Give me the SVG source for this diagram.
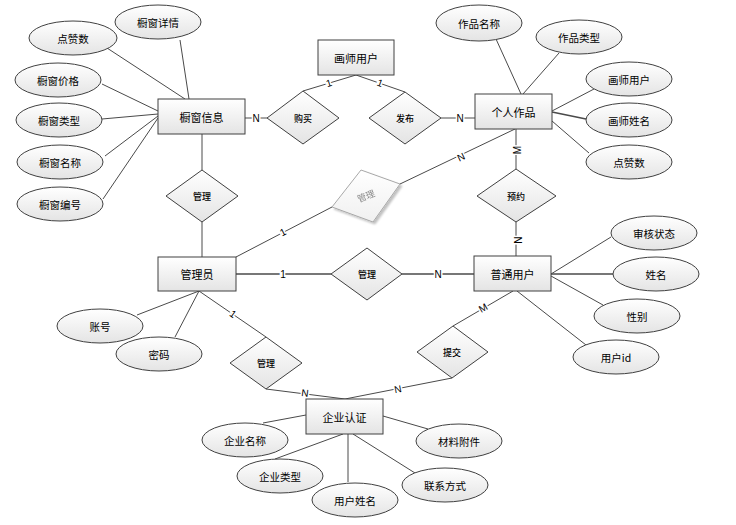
<svg xmlns="http://www.w3.org/2000/svg" width="736" height="525" viewBox="0 0 736 525">
<defs>
<linearGradient id="g" x1="0" y1="0" x2="0" y2="1">
<stop offset="0" stop-color="#ffffff"/>
<stop offset="1" stop-color="#e4e4e4"/>
</linearGradient>
<linearGradient id="gl" x1="0" y1="0" x2="0" y2="1">
<stop offset="0" stop-color="#ffffff"/>
<stop offset="1" stop-color="#f0f0f0"/>
</linearGradient>
<filter id="sh" x="-20%" y="-20%" width="150%" height="150%">
<feGaussianBlur in="SourceAlpha" stdDeviation="1.2"/>
<feOffset dx="1.5" dy="1.5" result="b"/>
<feComponentTransfer><feFuncA type="linear" slope="0.25"/></feComponentTransfer>
<feMerge><feMergeNode/><feMergeNode in="SourceGraphic"/></feMerge>
</filter>
</defs>
<style>
rect, ellipse, polygon { fill: url(#g); stroke: #404040; stroke-width: 1; }
line { stroke: #4a4a4a; stroke-width: 1; }
.thick { stroke-width: 1.6; }
text { font-family: "Noto Sans CJK SC", "Liberation Sans", sans-serif; fill: #000; text-anchor: middle; dominant-baseline: central; }
.ent { font-size: 11px; }
.att { font-size: 10.5px; }
.rel { font-size: 9px; font-weight: 500; }
.lab { font-family: "Liberation Sans", sans-serif; font-size: 10px; stroke: #fff; stroke-width: 3; paint-order: stroke; }
.ghost polygon { fill: url(#gl); stroke: #a8a8a8; }
.ghost text { fill: #888; font-weight: normal; }
</style>

<g id="connectors">
<line x1="180" y1="40" x2="189" y2="99"/>
<line x1="107" y1="48" x2="185" y2="99"/>
<line x1="102" y1="84" x2="158" y2="111"/>
<line x1="102" y1="119" x2="158" y2="114"/>
<line x1="105" y1="156" x2="158" y2="116"/>
<line x1="103" y1="199" x2="158" y2="118"/>
<line x1="245" y1="118" x2="267" y2="118"/>
<line x1="303" y1="91" x2="356" y2="75"/>
<line x1="405" y1="92" x2="356" y2="75"/>
<line x1="441" y1="118" x2="475" y2="118"/>
<line x1="496" y1="39" x2="521" y2="94"/>
<line x1="559" y1="53" x2="523" y2="94"/>
<line x1="594" y1="89" x2="552" y2="111"/>
<line class="thick" x1="586" y1="119" x2="552" y2="112"/>
<line x1="589" y1="153" x2="552" y2="121"/>
<line x1="400" y1="184" x2="515" y2="129"/>
<line x1="332" y1="207" x2="236" y2="257"/>
<line x1="516" y1="129" x2="516" y2="169"/>
<line x1="516" y1="222" x2="516" y2="256"/>
<line x1="202" y1="134" x2="202" y2="170"/>
<line x1="202" y1="222" x2="202" y2="257"/>
<line class="thick" x1="236" y1="274" x2="331" y2="274"/>
<line class="thick" x1="402" y1="274" x2="474" y2="274"/>
<line x1="611" y1="237" x2="551" y2="274"/>
<line class="thick" x1="613" y1="274" x2="551" y2="274"/>
<line x1="603" y1="305" x2="551" y2="276"/>
<line x1="586" y1="345" x2="517" y2="291"/>
<line x1="513" y1="291" x2="453" y2="326"/>
<line x1="452" y1="378" x2="345" y2="399"/>
<line x1="199" y1="291" x2="266" y2="337"/>
<line x1="266" y1="389" x2="345" y2="399"/>
<line x1="137" y1="315" x2="199" y2="291"/>
<line x1="175" y1="337" x2="199" y2="291"/>
<line x1="263" y1="423" x2="306" y2="415"/>
<line x1="275" y1="459" x2="343" y2="434"/>
<line x1="348" y1="482" x2="348" y2="434"/>
<line x1="415" y1="473" x2="353" y2="434"/>
<line x1="428" y1="429" x2="383" y2="416"/>
<text class="lab" x="256" y="118">N</text>
<text class="lab" x="329" y="83" transform="rotate(-17 329 83)">1</text>
<text class="lab" x="380" y="83" transform="rotate(20 380 83)">1</text>
<text class="lab" x="460" y="118">N</text>
<text class="lab" x="461" y="157" transform="rotate(-25 461 157)">N</text>
<text class="lab" x="283" y="232" transform="rotate(-27 283 232)">1</text>
<text class="lab" x="517" y="150" transform="rotate(-90 517 150)">M</text>
<text class="lab" x="517" y="240" transform="rotate(90 517 240)">N</text>
<text class="lab" x="283" y="274">1</text>
<text class="lab" x="438" y="274">N</text>
<text class="lab" x="483" y="308" transform="rotate(-30 483 308)">M</text>
<text class="lab" x="398" y="389" transform="rotate(-11 398 389)">N</text>
<text class="lab" x="233" y="314" transform="rotate(35 233 314)">1</text>
<text class="lab" x="305" y="393" transform="rotate(7 305 393)">N</text>
</g>

<g id="e-chuchuang"><rect x="158" y="99" width="87" height="35"/><text class="ent" x="201.5" y="116.5">橱窗信息</text></g>
<g id="e-huashi"><rect x="318" y="40" width="76" height="35"/><text class="ent" x="356" y="57.5">画师用户</text></g>
<g id="e-zuopin"><rect x="475" y="94" width="77" height="35"/><text class="ent" x="513.5" y="111.5">个人作品</text></g>
<g id="e-admin"><rect x="158" y="257" width="78" height="34"/><text class="ent" x="197" y="274">管理员</text></g>
<g id="e-user"><rect x="474" y="256" width="77" height="35"/><text class="ent" x="512.5" y="273.5">普通用户</text></g>
<g id="e-qiye"><rect x="306" y="399" width="77" height="35"/><text class="ent" x="344.5" y="416.5">企业认证</text></g>

<g id="r-goumai"><polygon points="267,118 303,91 339,118 303,144"/><text class="rel" x="303" y="118">购买</text></g>
<g id="r-fabu"><polygon points="369,118 405,92 441,118 405,144"/><text class="rel" x="405" y="118">发布</text></g>
<g id="r-guanli1"><polygon points="166,196 202,170 238,196 202,222"/><text class="rel" x="202" y="196">管理</text></g>
<g id="r-guanli-ghost" class="ghost" filter="url(#sh)"><polygon points="361,170 400,184 373,222 332,207"/><text class="rel" x="366" y="196" transform="rotate(-22 366 196)">管理</text></g>
<g id="r-yuyue"><polygon points="477,196 516,169 556,196 516,222"/><text class="rel" x="516" y="196">预约</text></g>
<g id="r-guanli2"><polygon points="331,274 367,248 402,274 367,300"/><text class="rel" x="367" y="274">管理</text></g>
<g id="r-tijiao"><polygon points="417,352 453,326 488,352 452,378"/><text class="rel" x="452" y="352">提交</text></g>
<g id="r-guanli3"><polygon points="230,363 266,337 302,363 266,389"/><text class="rel" x="266" y="363">管理</text></g>

<g id="a-xiangqing"><ellipse cx="158" cy="22" rx="43" ry="17"/><text class="att" x="158" y="22">橱窗详情</text></g>
<g id="a-dianzan1"><ellipse cx="73" cy="38" rx="44" ry="17"/><text class="att" x="73" y="38">点赞数</text></g>
<g id="a-jiage"><ellipse cx="58" cy="80" rx="43" ry="17"/><text class="att" x="58" y="80">橱窗价格</text></g>
<g id="a-leixing"><ellipse cx="59" cy="120" rx="43" ry="17"/><text class="att" x="59" y="120">橱窗类型</text></g>
<g id="a-mingcheng"><ellipse cx="60" cy="162" rx="43" ry="17"/><text class="att" x="60" y="162">橱窗名称</text></g>
<g id="a-bianhao"><ellipse cx="60" cy="204" rx="43" ry="17"/><text class="att" x="60" y="204">橱窗编号</text></g>

<g id="a-zpmc"><ellipse cx="479" cy="23" rx="43" ry="18"/><text class="att" x="479" y="23">作品名称</text></g>
<g id="a-zplx"><ellipse cx="579" cy="37" rx="43" ry="17"/><text class="att" x="579" y="37">作品类型</text></g>
<g id="a-hsyh"><ellipse cx="629" cy="79" rx="43" ry="17"/><text class="att" x="629" y="79">画师用户</text></g>
<g id="a-hsxm"><ellipse cx="629" cy="120" rx="43" ry="17"/><text class="att" x="629" y="120">画师姓名</text></g>
<g id="a-dianzan2"><ellipse cx="629" cy="162" rx="43" ry="17"/><text class="att" x="629" y="162">点赞数</text></g>

<g id="a-shenhe"><ellipse cx="654" cy="233" rx="43" ry="17"/><text class="att" x="654" y="233">审核状态</text></g>
<g id="a-xingming"><ellipse cx="656" cy="274" rx="43" ry="17"/><text class="att" x="656" y="274">姓名</text></g>
<g id="a-xingbie"><ellipse cx="637" cy="316" rx="43" ry="17"/><text class="att" x="637" y="316">性别</text></g>
<g id="a-userid"><ellipse cx="616" cy="357" rx="43" ry="17"/><text class="att" x="616" y="357">用户id</text></g>

<g id="a-zhanghao"><ellipse cx="100" cy="326" rx="43" ry="17"/><text class="att" x="100" y="326">账号</text></g>
<g id="a-mima"><ellipse cx="159" cy="354" rx="43" ry="17"/><text class="att" x="159" y="354">密码</text></g>

<g id="a-qymc"><ellipse cx="245" cy="440" rx="43" ry="17"/><text class="att" x="245" y="440">企业名称</text></g>
<g id="a-qylx"><ellipse cx="280" cy="476" rx="43" ry="17"/><text class="att" x="280" y="476">企业类型</text></g>
<g id="a-yhxm"><ellipse cx="355" cy="500" rx="43" ry="17"/><text class="att" x="355" y="500">用户姓名</text></g>
<g id="a-lxfs"><ellipse cx="445" cy="485" rx="43" ry="17"/><text class="att" x="445" y="485">联系方式</text></g>
<g id="a-clfj"><ellipse cx="459" cy="441" rx="43" ry="17"/><text class="att" x="459" y="441">材料附件</text></g>
</svg>
